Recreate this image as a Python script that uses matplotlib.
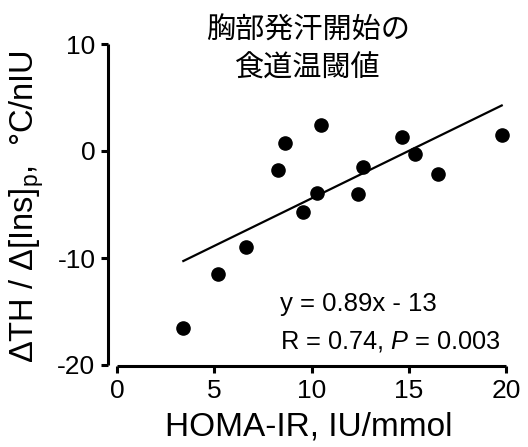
import numpy as np
import matplotlib
matplotlib.use("Agg")
import matplotlib.pyplot as plt

plt.rcParams['font.family'] = ['Liberation Sans', 'DejaVu Sans']
plt.rcParams['mathtext.fontset'] = 'custom'
plt.rcParams['mathtext.rm'] = 'Liberation Sans'
plt.rcParams['mathtext.it'] = 'Liberation Sans:italic'
plt.rcParams['axes.unicode_minus'] = False

# HOMA-IR (IU/mmol) vs dTH / d[Ins]p (degC/nIU)
homa_ir = [3.41, 5.21, 6.63, 8.29, 8.64, 9.58, 10.30, 10.47,
           12.41, 12.63, 14.63, 15.32, 16.49, 19.78]
dth_ins = [-16.55, -11.49, -8.97, -1.73, 0.75, -5.68, -3.88, 2.42,
           -4.03, -1.49, 1.30, -0.24, -2.17, 1.53]
slope = 0.888
intercept = -13.31
x_ticks = [0, 5, 10, 15, 20]
y_ticks = [-20, -10, 0, 10]

W, H = 528, 447
fig = plt.figure(figsize=(W / 100, H / 100), dpi=100)
ax = fig.add_axes([117 / W, 1 - 365 / H, 389 / W, 321 / H])

ax.scatter(homa_ir, dth_ins, s=90, color='black', zorder=3, clip_on=False)
xf = np.array([min(homa_ir), max(homa_ir)])
ax.plot(xf, slope * xf + intercept, color='black', lw=1.6, clip_on=False)

ax.set_xlim(0, 20)
ax.set_ylim(-20, 10)
ax.set_xticks(x_ticks)
ax.set_yticks(y_ticks)

for side in ['top', 'right']:
    ax.spines[side].set_visible(False)
ax.spines['left'].set_position(('outward', 6.5))
ax.spines['bottom'].set_position(('outward', 1))
ax.spines['left'].set_bounds(-20, 10)
ax.spines['bottom'].set_bounds(0, 20)
for side in ['left', 'bottom']:
    ax.spines[side].set_linewidth(2.2)
    ax.spines[side].set_capstyle('butt')
ax.tick_params(width=2.2, length=5, labelsize=19, pad=4)

ax.text(0.418, 0.19, 'y = 0.89x - 13', transform=ax.transAxes,
        fontsize=18.5, va='center', ha='left')
ax.text(0.418, 0.072, 'R = 0.74, $P$ = 0.003', transform=ax.transAxes,
        fontsize=18.3, va='center', ha='left')

fig.text(309 / W, 1 - 427 / H, 'HOMA-IR, IU/mmol', fontsize=24,
         ha='center', va='center')
fig.text(27 / W, 1 - 207 / H, r'ΔTH / Δ[Ins]$_\mathrm{p}$,  °C/nIU',
         fontsize=23.5, rotation=90, ha='center', va='center')
fig.text(308 / W, 1 - 50 / H, '胸部発汗開始の\n食道温閾値', fontsize=21,
         family=['Noto Sans CJK JP', 'DejaVu Sans'],
         ha='center', va='center', multialignment='center', linespacing=1.35)

fig.savefig('out.png', dpi=100)
